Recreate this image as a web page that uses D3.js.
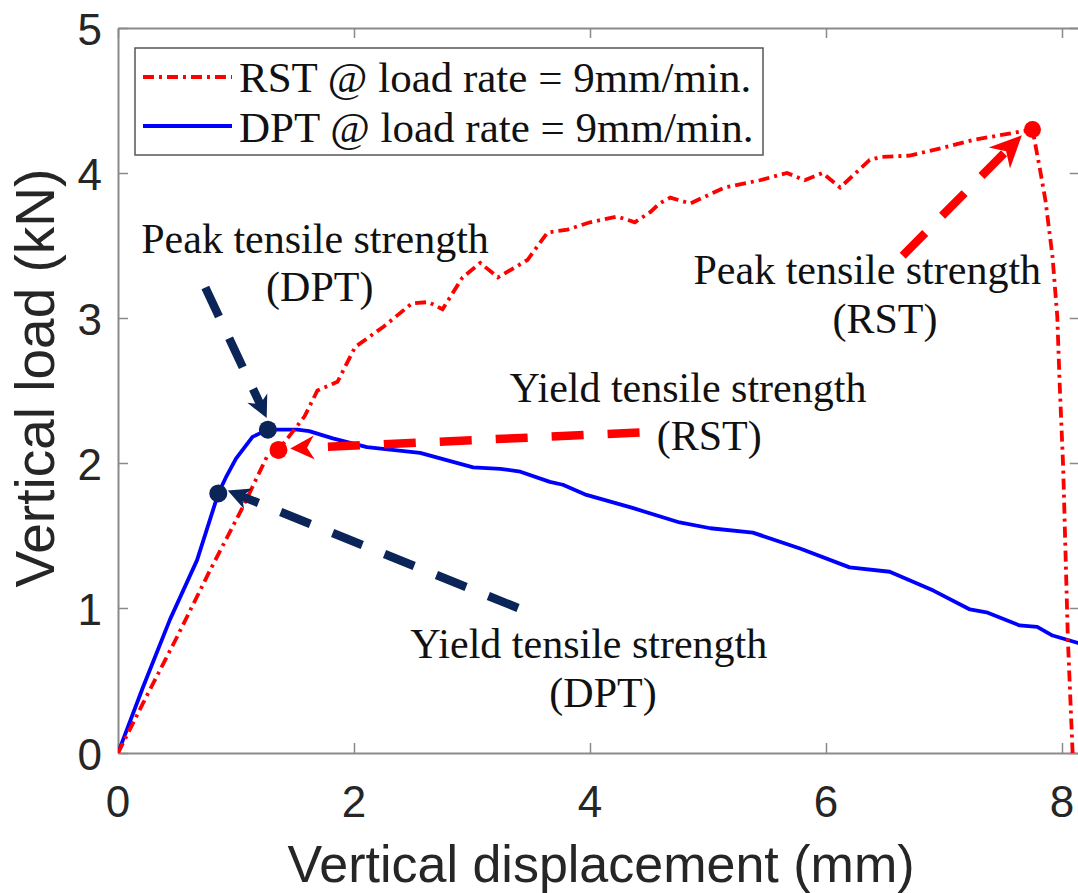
<!DOCTYPE html>
<html>
<head>
<meta charset="utf-8">
<script src="https://cdn.jsdelivr.net/npm/d3@7"></script>
<style>
  html, body { margin: 0; padding: 0; background: #fff; }
  svg { display: block; }
</style>
</head>
<body>
<svg id="chart" width="1078" height="893"></svg>
<script>
// Load–displacement curves (x in mm, y in kN)
const rstDisp = [0, 0.21, 0.50, 0.78, 1.06, 1.26, 1.36, 1.58, 1.69, 1.86, 2.01, 2.25, 2.49, 2.63, 2.75,
  2.92, 3.07, 3.22, 3.47, 3.64, 3.81, 4.00, 4.23, 4.38, 4.51, 4.59, 4.68, 4.85, 5.14, 5.44, 5.67,
  5.82, 5.97, 6.12, 6.37, 6.46, 6.71, 6.97, 7.26, 7.47, 7.75, 7.81, 7.86, 7.92, 7.96, 7.98, 8.01,
  8.05, 8.09];
const rstLoad = [0, 0.34, 0.80, 1.26, 1.70, 2.04, 2.09, 2.32, 2.50, 2.56, 2.80, 2.94, 3.10, 3.11, 3.06,
  3.28, 3.38, 3.28, 3.40, 3.59, 3.61, 3.66, 3.70, 3.66, 3.73, 3.79, 3.83, 3.79, 3.90, 3.95, 4.00,
  3.95, 4.00, 3.90, 4.09, 4.11, 4.12, 4.17, 4.23, 4.26, 4.30, 4.04, 3.81, 3.42, 3.01, 2.55, 1.97,
  0.78, 0];

const dptDisp = [0, 0.21, 0.44, 0.67, 0.85, 0.92, 1.00, 1.14, 1.27, 1.52, 1.62, 1.82, 2.11, 2.56, 3.01,
  3.24, 3.41, 3.66, 3.77, 3.97, 4.36, 4.76, 5.02, 5.38, 5.78, 6.20, 6.54, 6.91, 7.22, 7.36, 7.64,
  7.79, 7.92, 8.13, 8.30];
const dptLoad = [0, 0.45, 0.92, 1.33, 1.79, 1.91, 2.03, 2.18, 2.23, 2.23, 2.22, 2.17, 2.11, 2.07, 1.97,
  1.96, 1.94, 1.87, 1.85, 1.78, 1.69, 1.59, 1.55, 1.52, 1.41, 1.28, 1.25, 1.12, 0.99, 0.97, 0.88,
  0.87, 0.81, 0.76, 0.72];

// Key points: [displacement, load]
const rstYield = [1.36, 2.09];
const rstPeak = [7.75, 4.30];
const dptYield = [0.85, 1.79];
const dptPeak = [1.27, 2.23];

const xTicks = [0, 2, 4, 6, 8];
const yTicks = [0, 1, 2, 3, 4, 5];

const legendLabels = ["RST @ load rate = 9mm/min.", "DPT @ load rate = 9mm/min."];

// Callouts: text lines anchored in data units, and arrows from tail to tip
const callouts = [
  { lines: [["Peak tensile strength", 1.67, 3.445], ["(DPT)", 1.71, 3.115]],
    from: [0.74, 3.21], to: [1.26, 2.31], color: "#0b2559", head: [22, 11] },
  { lines: [["Yield tensile strength", 3.99, 0.655], ["(DPT)", 4.11, 0.318]],
    from: [3.39, 1.00], to: [0.93, 1.81], color: "#0b2559", head: [22, 11] },
  { lines: [["Yield tensile strength", 4.83, 2.421], ["(RST)", 5.01, 2.09]],
    from: [4.42, 2.21], to: [1.46, 2.10], color: "#ff0000", head: [24, 12] },
  { lines: [["Peak tensile strength", 6.35, 3.234], ["(RST)", 6.50, 2.897]],
    from: [6.65, 3.43], to: [7.66, 4.26], color: "#ff0000", head: [32, 15] }
];

const svg = d3.select("#chart");
const x = d3.scaleLinear().domain([0, 8.15]).range([118, 1079.7]);
const y = d3.scaleLinear().domain([0, 5]).range([753, 28]);

const axisGray = "#8a8a8a";
const sans = "'Liberation Sans', Arial, sans-serif";
const serif = "'Liberation Serif', 'Times New Roman', serif";

svg.append("defs").append("clipPath").attr("id", "plotClip")
  .append("rect").attr("x", 118).attr("y", 28).attr("width", 1079.7 - 118).attr("height", 753 - 28);

// Box with inward ticks on all four sides
const axisB = d3.axisBottom(x).tickValues(xTicks).tickSizeInner(-10).tickSizeOuter(0).tickFormat("");
const axisT = d3.axisTop(x).tickValues(xTicks).tickSizeInner(-10).tickSizeOuter(0).tickFormat("");
const axisL = d3.axisLeft(y).tickValues(yTicks).tickSizeInner(-10).tickSizeOuter(0).tickFormat("");
const axisR = d3.axisRight(y).tickValues(yTicks).tickSizeInner(-10).tickSizeOuter(0).tickFormat("");

function styleAxis(g) {
  g.selectAll("path.domain").attr("stroke", axisGray).attr("stroke-width", 2);
  g.selectAll(".tick line").attr("stroke", axisGray).attr("stroke-width", 1.5);
}
svg.append("g").attr("transform", `translate(0,${y(0)})`).call(axisB).call(styleAxis);
svg.append("g").attr("transform", `translate(0,${y(5)})`).call(axisT).call(styleAxis);
svg.append("g").attr("transform", `translate(${x(0)},0)`).call(axisL).call(styleAxis);
svg.append("g").attr("transform", `translate(${x(8.15)},0)`).call(axisR).call(styleAxis);

// Tick labels
svg.append("g").selectAll("text").data(xTicks).join("text")
  .attr("x", d => x(d)).attr("y", 817)
  .attr("text-anchor", "middle")
  .attr("font-family", sans).attr("font-size", 44).attr("fill", "#262626")
  .text(d => d);
svg.append("g").selectAll("text").data(yTicks).join("text")
  .attr("x", 102).attr("y", d => y(d) + 17)
  .attr("text-anchor", "end")
  .attr("font-family", sans).attr("font-size", 44).attr("fill", "#262626")
  .text(d => d);

// Axis titles
svg.append("text")
  .attr("x", 601).attr("y", 882)
  .attr("text-anchor", "middle")
  .attr("font-family", sans).attr("font-size", 52).attr("fill", "#262626")
  .text("Vertical displacement (mm)");
svg.append("text")
  .attr("transform", "translate(54,378) rotate(-90)")
  .attr("text-anchor", "middle")
  .attr("font-family", sans).attr("font-size", 55).attr("fill", "#262626")
  .text("Vertical load (kN)");

// Curves
const plot = svg.append("g").attr("clip-path", "url(#plotClip)");
const line = d3.line().x(d => x(d[0])).y(d => y(d[1]));
const rstPts = rstDisp.map((d, i) => [d, rstLoad[i]]);
const dptPts = dptDisp.map((d, i) => [d, dptLoad[i]]);

const rstDash = "11,5,3,5";
plot.append("path").datum(dptPts)
  .attr("d", line).attr("fill", "none")
  .attr("stroke", "#0000ff").attr("stroke-width", 3.8).attr("stroke-linejoin", "round");
plot.append("path").datum(rstPts)
  .attr("d", line).attr("fill", "none")
  .attr("stroke", "#ff0000").attr("stroke-width", 3.8)
  .attr("stroke-dasharray", rstDash);

// Callout arrows: thick dashed shaft with a notched arrowhead
function arrowhead(tip, tail, len, halfW, notch) {
  const dx = tip[0] - tail[0], dy = tip[1] - tail[1];
  const L = Math.hypot(dx, dy);
  const ux = dx / L, uy = dy / L, px = -uy, py = ux;
  const bx = tip[0] - ux * len, by = tip[1] - uy * len;
  const nx = tip[0] - ux * (len - notch), ny = tip[1] - uy * (len - notch);
  return `M${tip[0]},${tip[1]}L${bx + px * halfW},${by + py * halfW}L${nx},${ny}L${bx - px * halfW},${by - py * halfW}Z`;
}
const annot = svg.append("g");
callouts.forEach(c => {
  const tail = [x(c.from[0]), y(c.from[1])];
  const tip = [x(c.to[0]), y(c.to[1])];
  const dx = tip[0] - tail[0], dy = tip[1] - tail[1];
  const L = Math.hypot(dx, dy);
  const [headLen, headW] = c.head;
  const notch = headLen * 0.3;
  const end = [tip[0] - dx / L * (headLen - notch), tip[1] - dy / L * (headLen - notch)];
  annot.append("line")
    .attr("x1", tail[0]).attr("y1", tail[1]).attr("x2", end[0]).attr("y2", end[1])
    .attr("stroke", c.color).attr("stroke-width", 8.5)
    .attr("stroke-dasharray", "32,24");
  annot.append("path")
    .attr("d", arrowhead(tip, tail, headLen, headW, notch))
    .attr("fill", c.color);
  c.lines.forEach(([t, lx, ly]) => {
    annot.append("text")
      .attr("x", x(lx)).attr("y", y(ly))
      .attr("text-anchor", "middle")
      .attr("font-family", serif).attr("font-size", 42).attr("fill", "#111")
      .text(t);
  });
});

// Key-point markers
const markers = [
  { p: dptYield, color: "#0b2559", r: 9 },
  { p: dptPeak, color: "#0b2559", r: 9 },
  { p: rstYield, color: "#ff0000", r: 9 },
  { p: rstPeak, color: "#ff0000", r: 8.5 }
];
svg.append("g").selectAll("circle").data(markers).join("circle")
  .attr("cx", d => x(d.p[0])).attr("cy", d => y(d.p[1])).attr("r", d => d.r)
  .attr("fill", d => d.color);

// Legend
const lg = svg.append("g");
lg.append("rect").attr("x", 135).attr("y", 48).attr("width", 628).attr("height", 107)
  .attr("fill", "#fff").attr("stroke", "#555").attr("stroke-width", 1.5);
const legendStyles = [
  { color: "#ff0000", dash: rstDash },
  { color: "#0000ff", dash: null }
];
legendLabels.forEach((lab, i) => {
  const ly = 77 + i * 49;
  const s = lg.append("line").attr("x1", 143).attr("x2", 232).attr("y1", ly).attr("y2", ly)
    .attr("stroke", legendStyles[i].color).attr("stroke-width", 3.8);
  if (legendStyles[i].dash) s.attr("stroke-dasharray", legendStyles[i].dash);
  lg.append("text").attr("x", 239).attr("y", 92 + i * 50)
    .attr("font-family", serif).attr("font-size", 43).attr("fill", "#111")
    .text(lab);
});
</script>
</body>
</html>
